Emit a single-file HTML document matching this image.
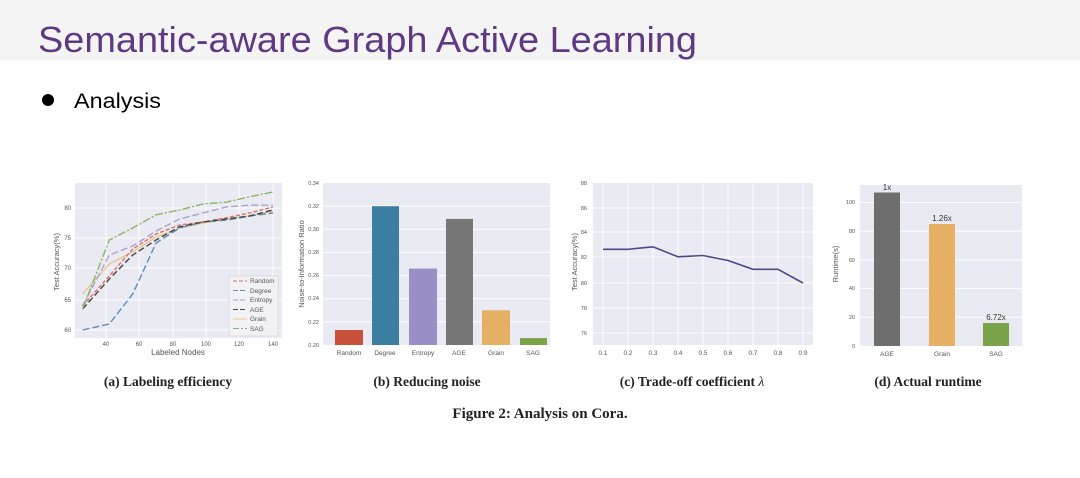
<!DOCTYPE html>
<html><head><meta charset="utf-8"><style>
html,body{margin:0;padding:0;background:#fff;}
body{width:1080px;height:473px;overflow:hidden;position:relative;}
</style></head><body>
<svg width="1080" height="473" viewBox="0 0 1080 473" xmlns="http://www.w3.org/2000/svg" font-family="Liberation Sans, DejaVu Sans, sans-serif">
<rect x="0" y="0" width="1080" height="60" fill="#f4f4f4"/>
<text x="38" y="52" font-size="36" fill="#5e3a82" textLength="659" lengthAdjust="spacingAndGlyphs" font-family="Liberation Sans, sans-serif">Semantic-aware Graph Active Learning</text>
<circle cx="48" cy="100" r="6" fill="#000"/>
<text x="74" y="108" font-size="21" fill="#000" textLength="87" lengthAdjust="spacingAndGlyphs">Analysis</text>

<!-- (a) -->
<rect x="75" y="183" width="207" height="155" fill="#eaeaf2"/>
<g stroke="#fff" stroke-width="1">
<line x1="75" x2="282" y1="208" y2="208"/><line x1="75" x2="282" y1="238" y2="238"/><line x1="75" x2="282" y1="268" y2="268"/><line x1="75" x2="282" y1="300" y2="300"/><line x1="75" x2="282" y1="330" y2="330"/>
<line y1="183" y2="338" x1="106" x2="106"/><line y1="183" y2="338" x1="139" x2="139"/><line y1="183" y2="338" x1="173" x2="173"/><line y1="183" y2="338" x1="206" x2="206"/><line y1="183" y2="338" x1="239" x2="239"/><line y1="183" y2="338" x1="273" x2="273"/>
</g>
<g fill="none" stroke-width="1.4">
<polyline stroke="#e8c890" points="82.6,294 109.3,264 132.7,252 156.1,237 179.5,228 202.9,223.2 226.2,219 249.6,216 273,211.2"/>
<polyline stroke="#5a8fb8" stroke-dasharray="7,3" points="82.6,330 109.3,324 132.7,294 156.1,243 179.5,228 202.9,222 226.2,220.2 249.6,216 273,213"/>
<polyline stroke="#aaa2d2" stroke-dasharray="7,3" points="82.6,306 109.3,255 132.7,246 156.1,231 179.5,219 202.9,213 226.2,207 249.6,205.2 273,205.2"/>
<polyline stroke="#d9706a" stroke-dasharray="4,2" points="82.6,306 109.3,276 132.7,249 156.1,234 179.5,225 202.9,222 226.2,217.8 249.6,213 273,207"/>
<polyline stroke="#444" stroke-dasharray="6,3" points="82.6,309 109.3,279 132.7,255 156.1,240 179.5,226.8 202.9,222 226.2,219 249.6,216 273,210"/>
<polyline stroke="#8ab468" stroke-dasharray="8,2,2,2" points="82.6,309 109.3,240 132.7,228 156.1,214.8 179.5,210 202.9,204 226.2,202.2 249.6,196.8 273,192"/>
</g>
<rect x="229" y="276" width="49" height="60" fill="#f2f2f6" stroke="#ccc" stroke-width="0.5"/>
<g font-size="6.5" fill="#555">
<line x1="233" x2="247" y1="281" y2="281" stroke="#d9706a" stroke-dasharray="4,2"/><text x="250" y="283">Random</text>
<line x1="233" x2="247" y1="290.5" y2="290.5" stroke="#5a8fb8" stroke-dasharray="5,2"/><text x="250" y="293">Degree</text>
<line x1="233" x2="247" y1="300" y2="300" stroke="#aaa2d2" stroke-dasharray="5,2"/><text x="250" y="302">Entropy</text>
<line x1="233" x2="247" y1="309.5" y2="309.5" stroke="#444" stroke-dasharray="5,2"/><text x="250" y="312">AGE</text>
<line x1="233" x2="247" y1="319" y2="319" stroke="#e8c890"/><text x="250" y="321">Grain</text>
<line x1="233" x2="247" y1="328.5" y2="328.5" stroke="#8ab468" stroke-dasharray="6,2,2,2"/><text x="250" y="331">SAG</text>
</g>
<g font-size="6" fill="#555" text-anchor="end">
<text x="71" y="210">80</text><text x="71" y="240">75</text><text x="71" y="270">70</text><text x="71" y="302">65</text><text x="71" y="332">60</text>
</g>
<g font-size="6" fill="#555" text-anchor="middle">
<text x="106" y="346">40</text><text x="139" y="346">60</text><text x="173" y="346">80</text><text x="206" y="346">100</text><text x="239" y="346">120</text><text x="273" y="346">140</text>
</g>
<text x="178" y="355" font-size="8" fill="#555" text-anchor="middle">Labeled Nodes</text>
<text transform="translate(59,262) rotate(-90)" font-size="7.5" fill="#555" text-anchor="middle">Test Accuracy(%)</text>

<!-- (b) -->
<rect x="323" y="183" width="227" height="162" fill="#eaeaf2"/>
<g stroke="#fff" stroke-width="1">
<line x1="323" x2="550" y1="206.1" y2="206.1"/><line x1="323" x2="550" y1="229.3" y2="229.3"/><line x1="323" x2="550" y1="252.4" y2="252.4"/><line x1="323" x2="550" y1="275.6" y2="275.6"/><line x1="323" x2="550" y1="298.7" y2="298.7"/><line x1="323" x2="550" y1="321.9" y2="321.9"/>
</g>
<rect x="335" y="330" width="28" height="15" fill="#c9503a"/>
<rect x="372" y="206.2" width="27" height="138.8" fill="#3b7ea1"/>
<rect x="409" y="268.6" width="28" height="76.4" fill="#9b8fc7"/>
<rect x="446" y="218.9" width="27" height="126.1" fill="#777"/>
<rect x="482" y="310.3" width="28" height="34.7" fill="#e5b064"/>
<rect x="520" y="338.1" width="27" height="6.9" fill="#7aa34a"/>
<g font-size="5.5" fill="#555" text-anchor="end">
<text x="319" y="185">0.34</text><text x="319" y="208">0.32</text><text x="319" y="231">0.30</text><text x="319" y="254">0.28</text><text x="319" y="277">0.26</text><text x="319" y="300">0.24</text><text x="319" y="324">0.22</text><text x="319" y="347">0.20</text>
</g>
<g font-size="6.5" fill="#555" text-anchor="middle">
<text x="349" y="355">Random</text><text x="385" y="355">Degree</text><text x="423" y="355">Entropy</text><text x="459" y="355">AGE</text><text x="496" y="355">Grain</text><text x="533" y="355">SAG</text>
</g>
<text transform="translate(304,264) rotate(-90)" font-size="7.5" fill="#555" text-anchor="middle">Noise-to-Information Ratio</text>

<!-- (c) -->
<rect x="593" y="183" width="220" height="162" fill="#eaeaf2"/>
<g stroke="#fff" stroke-width="1">
<line x1="593" x2="813" y1="208" y2="208"/><line x1="593" x2="813" y1="232" y2="232"/><line x1="593" x2="813" y1="257" y2="257"/><line x1="593" x2="813" y1="283" y2="283"/><line x1="593" x2="813" y1="308" y2="308"/><line x1="593" x2="813" y1="333" y2="333"/>
<line y1="183" y2="345" x1="603" x2="603"/><line y1="183" y2="345" x1="628" x2="628"/><line y1="183" y2="345" x1="653" x2="653"/><line y1="183" y2="345" x1="678" x2="678"/><line y1="183" y2="345" x1="703" x2="703"/><line y1="183" y2="345" x1="728" x2="728"/><line y1="183" y2="345" x1="753" x2="753"/><line y1="183" y2="345" x1="778" x2="778"/><line y1="183" y2="345" x1="803" x2="803"/>
</g>
<polyline fill="none" stroke="#4a4a8a" stroke-width="1.6" points="603,249.3 628,249.3 653,246.8 678,256.8 703,255.5 728,260.5 753,269.3 778,269.3 803,283"/>
<g font-size="5.5" fill="#555" text-anchor="end">
<text x="587" y="185">88</text><text x="587" y="210">86</text><text x="587" y="234">84</text><text x="587" y="259">82</text><text x="587" y="285">80</text><text x="587" y="310">78</text><text x="587" y="335">76</text>
</g>
<g font-size="6.5" fill="#555" text-anchor="middle">
<text x="603" y="355">0.1</text><text x="628" y="355">0.2</text><text x="653" y="355">0.3</text><text x="678" y="355">0.4</text><text x="703" y="355">0.5</text><text x="728" y="355">0.6</text><text x="753" y="355">0.7</text><text x="778" y="355">0.8</text><text x="803" y="355">0.9</text>
</g>
<text transform="translate(577,262) rotate(-90)" font-size="7.5" fill="#555" text-anchor="middle">Test Accuracy(%)</text>

<!-- (d) -->
<rect x="860" y="185" width="162" height="161" fill="#eaeaf2"/>
<g stroke="#fff" stroke-width="1">
<line x1="860" x2="1022" y1="202.5" y2="202.5"/><line x1="860" x2="1022" y1="231.2" y2="231.2"/><line x1="860" x2="1022" y1="259.9" y2="259.9"/><line x1="860" x2="1022" y1="288.6" y2="288.6"/><line x1="860" x2="1022" y1="317.3" y2="317.3"/>
</g>
<rect x="874" y="192.5" width="26" height="153.5" fill="#6e6e6e"/>
<rect x="929" y="224" width="26" height="122" fill="#e5b064"/>
<rect x="983" y="323" width="26" height="23" fill="#7aa34a"/>
<g font-size="8" fill="#333" text-anchor="middle">
<text x="887" y="190">1x</text><text x="942" y="221">1.26x</text><text x="996" y="320">6.72x</text>
</g>
<g font-size="5.5" fill="#555" text-anchor="end">
<text x="855" y="204">100</text><text x="855" y="233">80</text><text x="855" y="262">60</text><text x="855" y="290">40</text><text x="855" y="319">20</text><text x="855" y="348">0</text>
</g>
<g font-size="6.5" fill="#555" text-anchor="middle">
<text x="887" y="356">AGE</text><text x="942" y="356">Grain</text><text x="996" y="356">SAG</text>
</g>
<text transform="translate(838,264) rotate(-90)" font-size="7.5" fill="#555" text-anchor="middle">Runtime(s)</text>

<!-- captions -->
<g font-family="Liberation Serif, DejaVu Serif, serif" font-weight="bold" fill="#222" text-anchor="middle">
<text x="168" y="386" font-size="13.5">(a) Labeling efficiency</text>
<text x="427" y="386" font-size="13.5">(b) Reducing noise</text>
<text x="692" y="386" font-size="13.5">(c) Trade-off coefficient <tspan font-style="italic" font-weight="normal">λ</tspan></text>
<text x="928" y="386" font-size="13.5">(d) Actual runtime</text>
<text x="540" y="418" font-size="15">Figure 2: Analysis on Cora.</text>
</g>
</svg>
</body></html>
